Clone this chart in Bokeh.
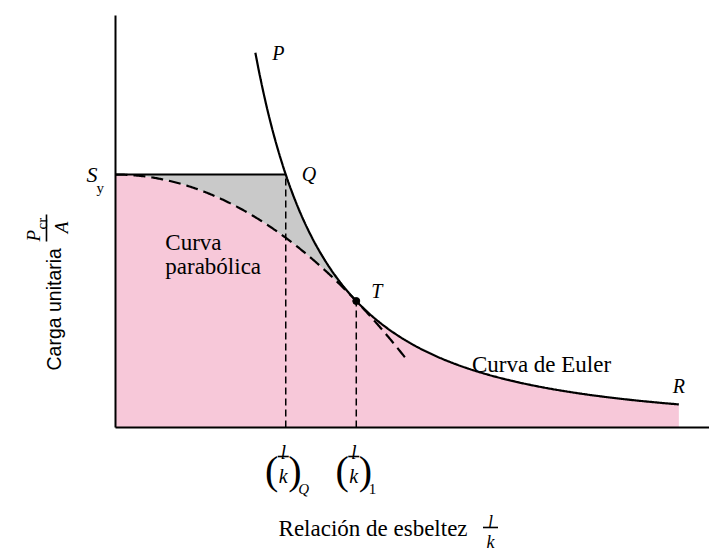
import numpy as np
from bokeh.plotting import figure
from bokeh.models import Range1d, FixedTicker
from bokeh.core.properties import value
from bokeh.embed import file_html
from bokeh.resources import INLINE

# Column material (MPa)
SY = 250.0            # yield strength S_y
E = 200_000.0         # modulus of elasticity

# Slenderness ratios l/k bounding the drawn curves
L_P = 73.0            # upper end of the Euler curve (P)
L_R = 294.0           # lower end of the Euler curve (R)
L_PARAB_END = 152.0   # end of the dashed parabola

# Euler stress reaches S_y at (l/k)_Q; parabola and Euler curve meet at (l/k)_1
XQ = np.pi * np.sqrt(E / SY)
X1 = np.pi * np.sqrt(2.0 * E / SY)


def euler(x):
    return np.pi ** 2 * E / x ** 2


def johnson(x):
    return SY - (SY * x / (2.0 * np.pi)) ** 2 / E


W, H = 709, 554
X_RANGE = (-60.0, 310.0)
Y_RANGE = (-125.5, 422.0)
Y_AXIS_TOP = 407.0

PX_X = W / (X_RANGE[1] - X_RANGE[0])
PX_Y = H / (Y_RANGE[1] - Y_RANGE[0])


def px_x(n):
    return n / PX_X


def px_y(n):
    return n / PX_Y


SERIF = "Liberation Serif"
SANS = "Liberation Sans"

PINK = "#f7c8d9"
GRAY = "#c9c9c9"

p = figure(width=W, height=H, x_range=Range1d(*X_RANGE), y_range=Range1d(*Y_RANGE),
           toolbar_location=None, output_backend="svg", min_border=0, title=None)
p.xgrid.visible = False
p.ygrid.visible = False
p.outline_line_color = None
p.background_fill_color = "white"
p.border_fill_color = "white"

# axes drawn at the origin
for ax, bounds in ((p.xaxis, (0, X_RANGE[1])), (p.yaxis, (0, Y_AXIS_TOP))):
    ax.fixed_location = 0
    ax.bounds = bounds
    ax.ticker = FixedTicker(ticks=[])
    ax.major_tick_line_color = None
    ax.minor_tick_line_color = None
    ax.major_label_text_font_size = "0px"
    ax.axis_line_width = 2
    ax.axis_line_color = "black"

# filled regions
xs_env = np.linspace(0.0, L_R, 600)
env = np.where(xs_env <= X1, johnson(xs_env), euler(np.maximum(xs_env, 1.0)))
p.varea(x=xs_env, y1=np.zeros_like(xs_env), y2=env, fill_color=PINK)

xs_gray = np.linspace(0.0, X1, 300)
top_gray = np.minimum(SY, euler(np.maximum(xs_gray, 1.0)))
p.varea(x=xs_gray, y1=johnson(xs_gray), y2=top_gray, fill_color=GRAY)

# S_y level up to Q
p.segment(x0=[0.0], y0=[SY], x1=[XQ], y1=[SY], line_color="black", line_width=2)

# dashed verticals at (l/k)_Q and (l/k)_1
p.segment(x0=[XQ, X1], y0=[0.0, 0.0], x1=[XQ, X1], y1=[SY, euler(X1)],
          line_color="black", line_width=1.5, line_dash="7 4")

# parabola (dashed) and Euler curve
xs_par = np.linspace(0.0, L_PARAB_END, 300)
p.line(xs_par, johnson(xs_par), line_color="black", line_width=2.2, line_dash="12 6")
xs_eu = np.linspace(L_P, L_R, 400)
p.line(xs_eu, euler(xs_eu), line_color="black", line_width=2.2)

# tangent point T
p.scatter(x=[X1], y=[euler(X1)], size=7, color="black")


def txt(x, y, s, size, style="normal", align="left", baseline="alphabetic",
        dx=0, dy=0, font=SERIF, angle=0.0):
    p.text(x=[x], y=[y], text=[s], x_offset=dx, y_offset=dy, angle=angle,
           text_font=value(font), text_font_size=f"{size}px", text_font_style=style,
           text_align=align, text_baseline=baseline, text_color="black")


# point letters
txt(L_P, euler(L_P), "P", 20, "italic", baseline="middle", dx=17)
txt(XQ, SY, "Q", 20, "italic", baseline="middle", dx=16, dy=-1)
txt(X1, euler(X1), "T", 20, "italic", baseline="middle", dx=15, dy=-10)
txt(L_R, euler(L_R), "R", 20, "italic", align="center", baseline="middle", dy=-18)

# S_y on the stress axis
txt(0.0, SY, "S", 22, "italic", align="right", baseline="middle", dx=-18)
txt(0.0, SY, "y", 15, align="left", dx=-19, dy=13)

# curve names
txt(26.0, 183.0, "Curva", 23)
txt(26.0, 159.0, "parabólica", 23)
txt(186.0, 62.0, "Curva de Euler", 23)


def fraction(xc, yc, num, den, size, half, den_drop):
    txt(xc, yc, num, size, "italic", align="center", dy=-5)
    p.segment(x0=[xc - px_x(half)], y0=[yc], x1=[xc + px_x(half)], y1=[yc],
              line_color="black", line_width=1.6)
    txt(xc, yc, den, size, "italic", align="center", dy=den_drop)


# slenderness tick labels (l/k)_Q and (l/k)_1
TICK_BAR_Y = 0.0 - px_y(29)
for tick, sub, sub_style in ((XQ, "Q", "italic"), (X1, "1", "normal")):
    fc = tick - px_x(2.5)
    fraction(fc, TICK_BAR_Y, "l", "k", 20, 5.5, 19)
    txt(fc - px_x(5), TICK_BAR_Y, "(", 40, align="right", dy=14)
    txt(fc + px_x(5), TICK_BAR_Y, ")", 40, align="left", dy=14)
    txt(fc + px_x(15), TICK_BAR_Y, sub, 15, sub_style, dy=32)

# horizontal axis title
txt(85.1, -99.8, "Relación de esbeltez", 23)
fraction(195.7, -98.8, "l", "k", 18, 7.5, 15)

# vertical axis title (rotated)
UP = np.pi / 2
txt(-32.3, 56.3, "Carga unitaria", 19.5, font=SANS, angle=UP)
txt(-42.8, 183.8, "P", 19, "italic", angle=UP)
txt(-38.6, 195.7, "cr", 15, angle=UP)
p.segment(x0=[-36.0], y0=[183.8], x1=[-36.0], y1=[210.5], line_color="black", line_width=1.6)
txt(-28.2, 197.7, "A", 19, "italic", align="center", angle=UP)

open("out.html", "w").write(file_html(p, INLINE))
